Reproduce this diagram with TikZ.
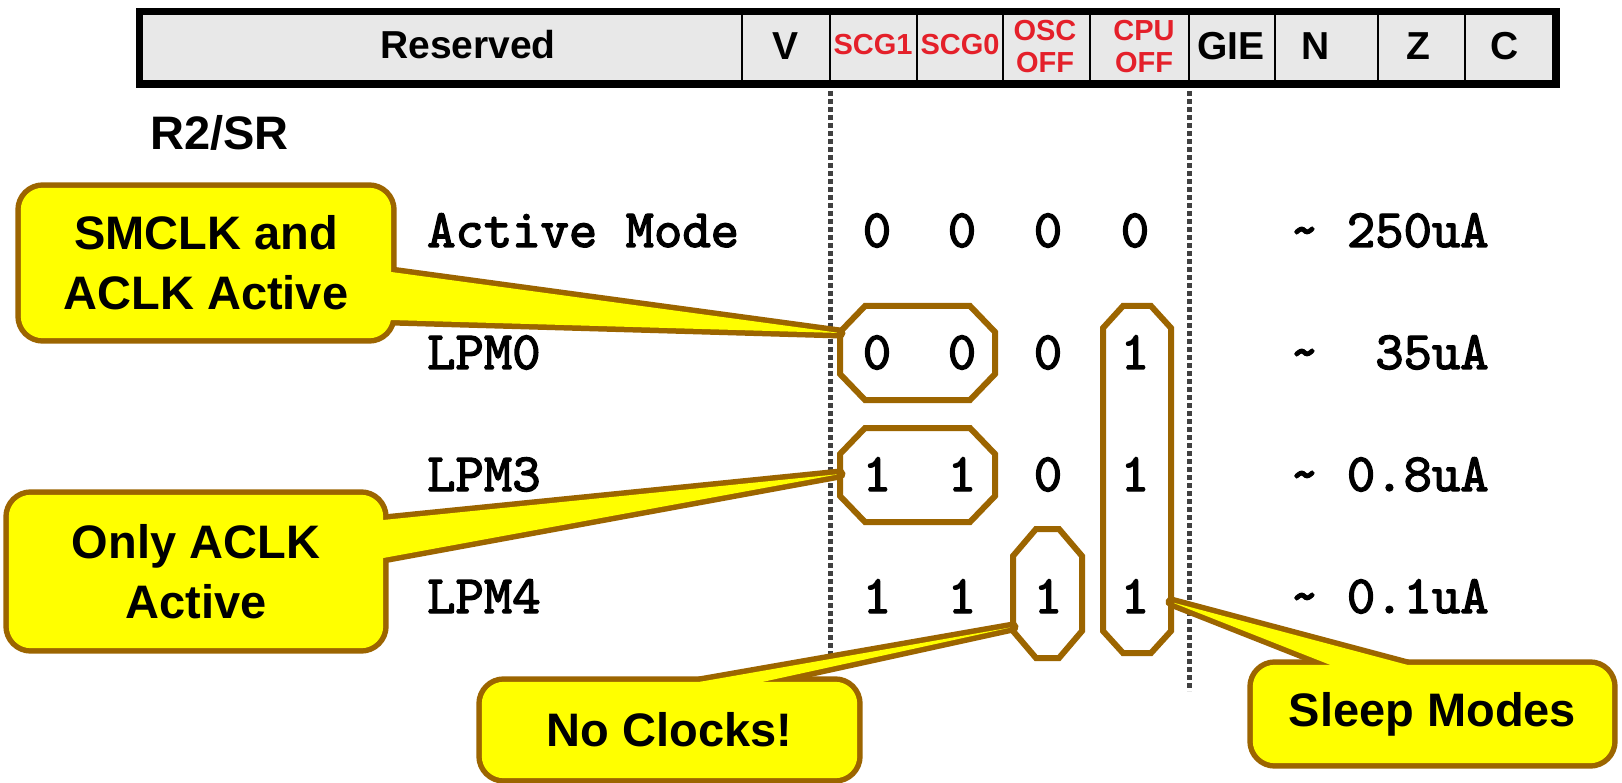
\documentclass[tikz,border=0pt]{standalone}
\usepackage{fontspec}
\setmainfont{Liberation Sans}
\newfontfamily\mono{lmmono10-regular.otf}[FakeBold=2.5]
\usetikzlibrary{calc}
\pgfdeclarelayer{outline}
\pgfdeclarelayer{fillL}
\pgfsetlayers{outline,fillL,main}
\definecolor{brn}{HTML}{9C6500}
\definecolor{yel}{HTML}{FFFF00}
\definecolor{hdr}{HTML}{E8E8E8}
\definecolor{regred}{HTML}{E4202A}
\definecolor{dotc}{HTML}{404040}
\begin{document}
\begin{tikzpicture}[x=1pt,y=-1pt,
  hlab/.style={font=\fontsize{39}{40}\selectfont\bfseries, inner sep=0},
  rlab/.style={font=\fontsize{29}{32}\selectfont\bfseries, text=regred, align=center, inner sep=0},
  rowlab/.style={font=\mono\fontsize{54}{54}\selectfont, anchor=base west, inner sep=0},
  digit/.style={font=\mono\fontsize{54}{54}\selectfont, anchor=base, inner sep=0},
  ctext/.style={font=\fontsize{47}{60}\selectfont\bfseries, align=center, inner sep=0},
  octo/.style={draw=brn, line width=6pt, line join=miter},
  sepline/.style={draw=dotc, line width=5pt, dash pattern=on 5pt off 3pt},
  cstroke/.style={draw=brn, line width=11pt, line join=round},
]
\useasboundingbox (0,0) rectangle (1622,783);
\begin{pgfonlayer}{outline}
  \fill[white] (0,0) rectangle (1622,783);
  \draw[sepline] (830,83) -- (830,657);
  \draw[sepline] (1189,83) -- (1189,691);
\end{pgfonlayer}

% header bar
\node[draw=black, line width=5pt, fill=hdr, minimum width=1414pt, minimum height=70pt,
      inner sep=0, anchor=north west] (bar) at (138,10.5) {};
\foreach \xx in {742,830,917,1003,1090,1189,1275,1378,1465}
  \draw[line width=1.8pt] (\xx,10.5) -- (\xx,80.5);
\draw[line width=5pt] (bar.north west) rectangle (bar.south east);
\node[hlab] (hres) at (468,45) {Reserved};
\node[hlab] (hv) at (785,46) {V};
\node[rlab] (hs1) at (873,45) {SCG1};
\node[rlab] (hs0) at (960,45) {SCG0};
\node[rlab] (hosc) at (1045,47) {OSC\\OFF};
\node[rlab] (hcpu) at (1144,47) {CPU\\OFF};
\node[hlab] (hgie) at (1231,46) {GIE};
\node[hlab] (hn) at (1316,46) {N};
\node[hlab] (hz) at (1418,46) {Z};
\node[hlab] (hc) at (1505,46) {C};

\node[font=\fontsize{47}{47}\selectfont\bfseries, anchor=base west, inner sep=0] (reg) at (150,150) {R2/SR};

% rows
\node[rowlab] (ram) at (427,247) {Active Mode};
\node[rowlab] (rl0) at (427,369) {LPM0};
\node[rowlab] (rl3) at (427,491) {LPM3};
\node[rowlab] (rl4) at (427,613) {LPM4};

\node[digit] (a1) at (877,247) {0};
\node[digit] (a2) at (962,247) {0};
\node[digit] (a3) at (1048,247) {0};
\node[digit] (a4) at (1135,247) {0};
\node[digit] (b1) at (877,369) {0};
\node[digit] (b2) at (962,369) {0};
\node[digit] (b3) at (1048,369) {0};
\node[digit] (b4) at (1135,369) {1};
\node[digit] (d1) at (877,491) {1};
\node[digit] (d2) at (962,491) {1};
\node[digit] (d3) at (1048,491) {0};
\node[digit] (d4) at (1135,491) {1};
\node[digit] (e1) at (877,613) {1};
\node[digit] (e2) at (962,613) {1};
\node[digit] (e3) at (1048,613) {1};
\node[digit] (e4) at (1135,613) {1};

\node[rowlab] (iam) at (1290,247) {\textasciitilde{} 250uA};
\node[rowlab] (il0) at (1290,369) {\textasciitilde{} \ 35uA};
\node[rowlab] (il3) at (1290,491) {\textasciitilde{} 0.8uA};
\node[rowlab] (il4) at (1290,613) {\textasciitilde{} 0.1uA};

% octagons
\draw[octo] (865,306) -- (970,306) -- (995,332) -- (995,374) -- (970,400) -- (865,400) -- (840,374) -- (840,332) -- cycle;
\draw[octo] (865,428) -- (970,428) -- (995,454) -- (995,496) -- (970,522) -- (865,522) -- (840,496) -- (840,454) -- cycle;
\draw[octo] (1036,529) -- (1059,529) -- (1082,556) -- (1082,631) -- (1059,658) -- (1036,658) -- (1013,631) -- (1013,556) -- cycle;
\draw[octo] (1123,306) -- (1151,306) -- (1171,328) -- (1171,631) -- (1151,653) -- (1123,653) -- (1103,631) -- (1103,328) -- cycle;
\coordinate (t1) at (840,333);
\coordinate (t2) at (840,474);
\coordinate (t3) at (1013,627);
\coordinate (t4) at (1171,602);

% callouts
\node[ctext, minimum width=370pt, minimum height=150pt] (c1) at (206,263) {SMCLK and\\ACLK Active};
\node[ctext, minimum width=374pt, minimum height=153pt] (c2) at (196,571.5) {Only ACLK\\Active};
\node[ctext, minimum width=375pt, minimum height=96pt] (c3) at (669.5,730) {No Clocks!};
\node[ctext, minimum width=359pt, minimum height=98pt] (c4) at (1432.5,714) {Sleep Modes};

\begin{pgfonlayer}{outline}
  \foreach \c in {c1,c2,c3,c4}
    \draw[cstroke, rounded corners=22pt] (\c.north west) rectangle (\c.south east);
  \draw[cstroke] ($(c1.east)+(0,9)$) -- (t1) -- ($(c1.east)+(0,57)$) -- cycle;
  \draw[cstroke] ($(c2.east)+(0,-51.5)$) -- (t2) -- ($(c2.east)+(0,-13.5)$) -- cycle;
  \draw[cstroke] ($(c3.north)+(30.5,0)$) -- (t3) -- ($(c3.north)+(93.5,0)$) -- cycle;
  \draw[cstroke] ($(c4.north)+(-102.5,0)$) -- (t4) -- ($(c4.north)+(-25.5,0)$) -- cycle;
\end{pgfonlayer}
\begin{pgfonlayer}{fillL}
  \foreach \c in {c1,c2,c3,c4}
    \fill[yel, rounded corners=22pt] (\c.north west) rectangle (\c.south east);
  \fill[yel] ($(c1.east)+(0,9)$) -- (t1) -- ($(c1.east)+(0,57)$) -- cycle;
  \fill[yel] ($(c2.east)+(0,-51.5)$) -- (t2) -- ($(c2.east)+(0,-13.5)$) -- cycle;
  \fill[yel] ($(c3.north)+(30.5,0)$) -- (t3) -- ($(c3.north)+(93.5,0)$) -- cycle;
  \fill[yel] ($(c4.north)+(-102.5,0)$) -- (t4) -- ($(c4.north)+(-25.5,0)$) -- cycle;
\end{pgfonlayer}
\end{tikzpicture}
\end{document}
